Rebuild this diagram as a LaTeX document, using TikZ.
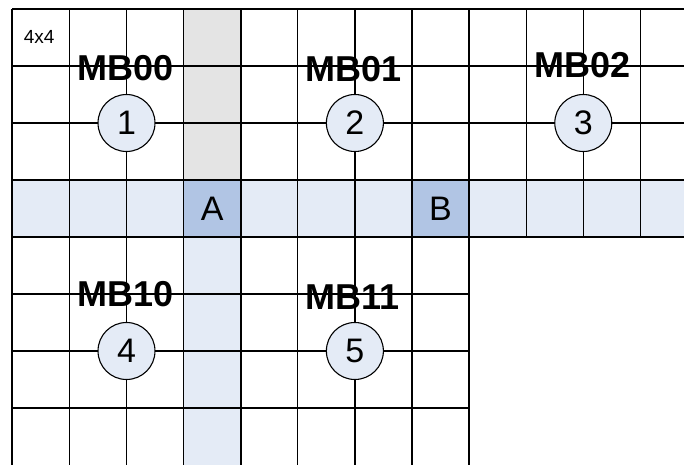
\documentclass[tikz,border=0pt]{standalone}
\usepackage{fontspec}
\setmainfont{Liberation Sans}
\usetikzlibrary{positioning}
\definecolor{rowblue}{HTML}{E4EBF6}
\definecolor{cellblue}{HTML}{B1C5E4}
\definecolor{colgray}{HTML}{E4E4E4}
\tikzset{
  gridline/.style={line width=1.3pt, black},
  blockline/.style={line width=2pt, black},
  mblabel/.style={font=\fontsize{36}{40}\selectfont\bfseries, inner sep=0pt},
  mbnum/.style={circle, draw, line width=1.1pt, fill=rowblue, minimum size=57pt, inner sep=0pt,
                font=\fontsize{34}{38}\selectfont},
  celllab/.style={font=\fontsize{34}{38}\selectfont, inner sep=0pt},
  sizelab/.style={font=\fontsize{19}{22}\selectfont, inner sep=0pt},
}

\begin{document}
\begin{tikzpicture}[x=57.1pt, y=-57pt]
    \useasboundingbox (-0.2154,-0.158) rectangle (11.764,8.0);
    % shaded row, column and the two cells
    \fill[rowblue] (0,3) rectangle (11.764,4);
    \fill[colgray] (3,0) rectangle (4,3);
    \fill[rowblue] (3,4) rectangle (4,8);
    \fill[cellblue] (3,3) rectangle (4,4);
    \fill[cellblue] (7,3) rectangle (8,4);
    % grid
    \foreach \i in {1,2,3,5,6,7,9,10,11} \draw[gridline] (\i,0) -- (\i,4);
    \foreach \i in {1,2,3,5,6,7} \draw[gridline] (\i,4) -- (\i,8);
    \foreach \j in {1,2,3} \draw[gridline] (0,\j) -- (11.764,\j);
    \foreach \j in {5,6,7} \draw[gridline] (0,\j) -- (8,\j);
    \foreach \i in {0,4,8} \draw[blockline] (\i,0) -- (\i,8);
    \foreach \j in {0,4} \draw[blockline] (0,\j) -- (11.764,\j);
    % labels
    \node[sizelab] (sz) at (0.47,0.49) {4x4};
    \node[mblabel] (mb00) at (1.99,1.03) {MB00};
    \node[mblabel] (mb01) at (5.97,1.06) {MB01};
    \node[mblabel] (mb02) at (9.99,0.99) {MB02};
    \node[mblabel] (mb10) at (1.98,5.0) {MB10};
    \node[mblabel] (mb11) at (5.96,5.05) {MB11};
    \node[mbnum] (n1) at (2,2) {1};
    \node[mbnum] (n2) at (6,2) {2};
    \node[mbnum] (n3) at (10,2) {3};
    \node[mbnum] (n4) at (2,6) {4};
    \node[mbnum] (n5) at (6,6) {5};
    \node[celllab] (a) at (3.5,3.5) {A};
    \node[celllab] (b) at (7.5,3.5) {B};
  \end{tikzpicture}
\end{document}
